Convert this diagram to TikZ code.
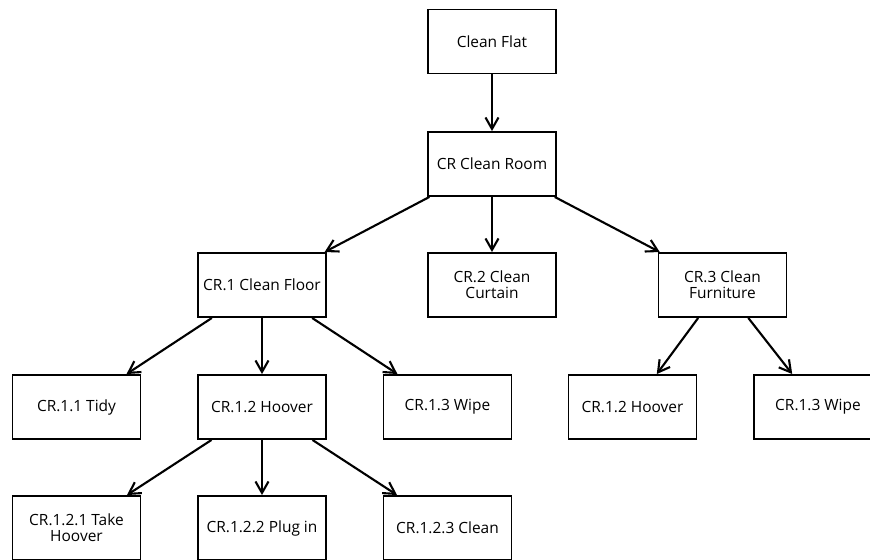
\documentclass[tikz,border=0pt]{standalone}
\usepackage{fontspec}
\setmainfont{Open Sans}
\usetikzlibrary{arrows.meta}
\begin{document}
\begin{tikzpicture}[x=0.02cm,y=-0.02cm,
  task/.style={draw=black, line width=1.1pt, minimum width=2.56cm, minimum height=1.28cm,
    inner sep=0pt, align=center, font=\fontsize{8.8}{9}\selectfont},
  link/.style={line width=1.2pt, -{Straight Barb[length=6.5pt,width=7.4pt,line width=1.2pt]}}]
\useasboundingbox (0,0) rectangle (870,560);
% task tree
\node[task] (flat) at (492,41.5) {Clean Flat};
\node[task] (room) at (492,164) {CR Clean Room};
\node[task] (floor) at (262,285) {CR.1 Clean Floor};
\node[task] (curtain) at (492,285) {CR.2 Clean\\Curtain};
\node[task] (furn) at (722.5,285) {CR.3 Clean\\Furniture};
\node[task] (tidy) at (76.5,407) {CR.1.1 Tidy};
\node[task] (hoover) at (262,407) {CR.1.2 Hoover};
\node[task] (wipe) at (447.5,407) {CR.1.3 Wipe};
\node[task] (hoover2) at (632.5,407) {CR.1.2 Hoover};
\node[task] (wipe2) at (818,407) {CR.1.3 Wipe};
\node[task] (take) at (76.5,528) {CR.1.2.1 Take\\Hoover};
\node[task] (plug) at (262,528) {CR.1.2.2 Plug in};
\node[task] (clean) at (447.5,528) {CR.1.2.3 Clean};
% decomposition links
\draw[link] (flat) -- (room);
\draw[link] (room) -- (floor);
\draw[link] (room) -- (curtain);
\draw[link] (room) -- (furn);
\draw[link] (floor) -- (tidy);
\draw[link] (floor) -- (hoover);
\draw[link] (floor) -- (wipe);
\draw[link] (furn) -- (hoover2);
\draw[link] (furn) -- (wipe2);
\draw[link] (hoover) -- (take);
\draw[link] (hoover) -- (plug);
\draw[link] (hoover) -- (clean);
\end{tikzpicture}
\end{document}
